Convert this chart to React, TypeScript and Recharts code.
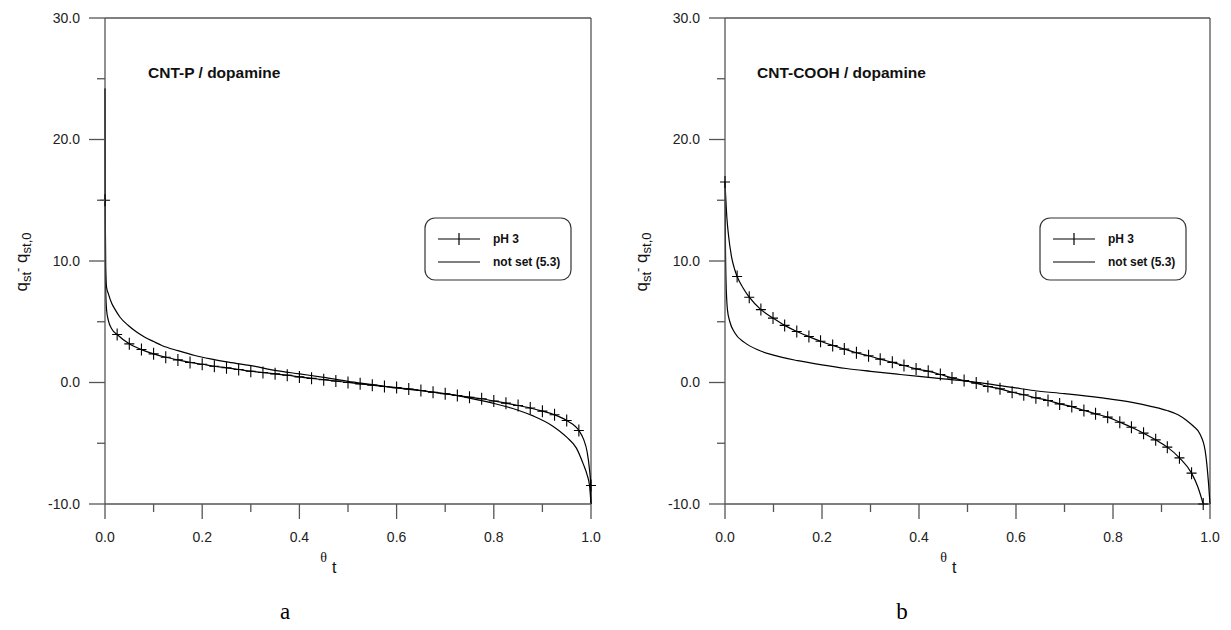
import React from "react";
import { ComposedChart, Line, Scatter, XAxis, YAxis, ReferenceLine } from "recharts";

const FONT = "'Liberation Sans', Arial, sans-serif";
const AXIS = "#555";

const xTicks = [0, 0.1, 0.2, 0.3, 0.4, 0.5, 0.6, 0.7, 0.8, 0.9, 1.0];
const yTicks = [-10, -5, 0, 5, 10, 15, 20, 25, 30];

// panel a: CNT-P / dopamine
const aMarkX = [0, 0.025, 0.05, 0.075, 0.1, 0.125, 0.15, 0.175, 0.2, 0.225, 0.25, 0.275, 0.3, 0.325, 0.35, 0.375, 0.4, 0.425, 0.45, 0.475, 0.5, 0.525, 0.55, 0.575, 0.6, 0.625, 0.65, 0.675, 0.7, 0.725, 0.75, 0.775, 0.8, 0.825, 0.85, 0.875, 0.9, 0.925, 0.95, 0.975, 1.0];
const aMarkY = [15.0, 3.95, 3.18, 2.71, 2.36, 2.08, 1.86, 1.65, 1.5, 1.34, 1.21, 1.07, 0.93, 0.82, 0.71, 0.6, 0.46, 0.34, 0.23, 0.12, 0.0, -0.11, -0.22, -0.33, -0.42, -0.53, -0.66, -0.8, -0.93, -1.07, -1.21, -1.34, -1.52, -1.7, -1.89, -2.1, -2.36, -2.66, -3.13, -3.95, -8.48];
const aPhX = [0, 0.0006, 0.0015, 0.0034, 0.007, 0.014, 0.025, 0.05, 0.075, 0.1, 0.125, 0.15, 0.175, 0.2, 0.225, 0.25, 0.275, 0.3, 0.325, 0.35, 0.375, 0.4, 0.425, 0.45, 0.475, 0.5, 0.525, 0.55, 0.575, 0.6, 0.625, 0.65, 0.675, 0.7, 0.725, 0.75, 0.775, 0.8, 0.825, 0.85, 0.875, 0.9, 0.925, 0.95, 0.975, 0.985, 0.992, 0.997, 0.9995, 1.0];
const aPhY = [24.2, 11.0, 7.5, 5.9, 5.1, 4.4, 3.95, 3.18, 2.71, 2.36, 2.08, 1.86, 1.65, 1.5, 1.34, 1.21, 1.07, 0.93, 0.82, 0.71, 0.6, 0.46, 0.34, 0.23, 0.12, 0.0, -0.11, -0.22, -0.33, -0.42, -0.53, -0.66, -0.8, -0.93, -1.07, -1.21, -1.34, -1.52, -1.7, -1.89, -2.1, -2.36, -2.66, -3.13, -3.95, -4.7, -5.7, -7.2, -8.48, -10.0];
const aNsX = [0, 0.0005, 0.0015, 0.003, 0.007, 0.014, 0.02, 0.031, 0.048, 0.065, 0.082, 0.1, 0.117, 0.15, 0.185, 0.22, 0.254, 0.309, 0.35, 0.4, 0.45, 0.5, 0.55, 0.6, 0.65, 0.7, 0.75, 0.8, 0.85, 0.881, 0.92, 0.95, 0.97, 0.984, 0.992, 0.997, 1.0];
const aNsY = [24.2, 14.0, 9.5, 7.9, 7.3, 6.5, 6.06, 5.37, 4.69, 4.15, 3.73, 3.37, 3.05, 2.62, 2.22, 1.92, 1.67, 1.32, 1.0, 0.71, 0.42, 0.1, -0.17, -0.45, -0.68, -0.92, -1.28, -1.72, -2.28, -2.75, -3.55, -4.5, -5.4, -6.7, -7.6, -8.5, -10.0];

// panel b: CNT-COOH / dopamine
const bMarkX = [0, 0.025, 0.05, 0.074, 0.099, 0.123, 0.148, 0.173, 0.197, 0.222, 0.246, 0.271, 0.296, 0.32, 0.345, 0.369, 0.394, 0.419, 0.444, 0.468, 0.493, 0.518, 0.542, 0.567, 0.592, 0.616, 0.641, 0.666, 0.69, 0.715, 0.74, 0.764, 0.789, 0.814, 0.838, 0.863, 0.888, 0.912, 0.937, 0.962, 0.986];
const bMarkY = [16.5, 8.72, 7.02, 6.0, 5.3, 4.7, 4.2, 3.78, 3.4, 3.05, 2.75, 2.45, 2.2, 1.92, 1.66, 1.4, 1.12, 0.93, 0.66, 0.38, 0.16, -0.05, -0.33, -0.52, -0.8, -1.01, -1.26, -1.48, -1.76, -1.98, -2.3, -2.58, -2.85, -3.27, -3.68, -4.17, -4.72, -5.32, -6.2, -7.46, -10.0];
const bPhX = [0, 0.004, 0.007, 0.0137, 0.02, 0.025, 0.037, 0.05, 0.074, 0.099, 0.123, 0.148, 0.173, 0.197, 0.222, 0.246, 0.271, 0.296, 0.32, 0.345, 0.369, 0.394, 0.419, 0.444, 0.468, 0.493, 0.518, 0.542, 0.567, 0.592, 0.616, 0.641, 0.666, 0.69, 0.715, 0.74, 0.764, 0.789, 0.814, 0.838, 0.863, 0.888, 0.912, 0.937, 0.962, 0.975, 0.986];
const bPhY = [16.5, 13.5, 12.2, 10.3, 9.3, 8.72, 7.8, 7.02, 6.0, 5.3, 4.7, 4.2, 3.78, 3.4, 3.05, 2.75, 2.45, 2.2, 1.92, 1.66, 1.4, 1.12, 0.93, 0.66, 0.38, 0.16, -0.05, -0.33, -0.52, -0.8, -1.01, -1.26, -1.48, -1.76, -1.98, -2.3, -2.58, -2.85, -3.27, -3.68, -4.17, -4.72, -5.32, -6.2, -7.46, -8.6, -10.0];
const bNsX = [0, 0.001, 0.002, 0.005, 0.01, 0.02, 0.04, 0.07, 0.1, 0.15, 0.2, 0.25, 0.3, 0.361, 0.4, 0.45, 0.498, 0.55, 0.6, 0.636, 0.7, 0.773, 0.842, 0.88, 0.911, 0.935, 0.952, 0.966, 0.979, 0.99, 0.997, 1.0];
const bNsY = [16.5, 11.0, 8.5, 6.0, 5.0, 4.1, 3.3, 2.65, 2.25, 1.8, 1.45, 1.15, 0.92, 0.66, 0.5, 0.3, 0.11, -0.15, -0.45, -0.66, -0.92, -1.25, -1.65, -1.98, -2.3, -2.68, -3.13, -3.6, -4.22, -5.6, -8.3, -10.0];

const seriesNames = ["pH 3", "not set (5.3)"];

const zip = (xs: number[], ys: number[]) => xs.map((x, i) => ({ x, y: ys[i] }));

const YTick = (props: any) => {
  const { x, y, payload } = props;
  const v = payload.value;
  const major = v % 10 === 0;
  return (
    <g>
      <line x1={x - (major ? 16 : 8)} x2={x} y1={y} y2={y} stroke={AXIS} strokeWidth={1.3} />
      {major && (
        <text x={x - 25} y={y} dy="0.35em" textAnchor="end" fontSize={14} fontFamily={FONT} fill="#222">
          {v.toFixed(1)}
        </text>
      )}
    </g>
  );
};

const XTick = (props: any) => {
  const { x, y, payload } = props;
  const v = payload.value;
  const major = Math.round(v * 10) % 2 === 0;
  return (
    <g>
      <line x1={x} x2={x} y1={y} y2={y + (major ? 15 : 8)} stroke={AXIS} strokeWidth={1.3} />
      {major && (
        <text x={x} y={y + 33} dy="0.35em" textAnchor="middle" fontSize={14} fontFamily={FONT} fill="#222">
          {v.toFixed(1)}
        </text>
      )}
    </g>
  );
};

const Plus = (p: any) => {
  const { cx, cy } = p;
  return <path d={`M${cx - 5},${cy}H${cx + 5}M${cx},${cy - 6}V${cy + 6}`} stroke="#000" strokeWidth={1.1} fill="none" />;
};

function Panel(props: any) {
  const { left, width, margin, title, titleDx, letter, letterDx, legendDx, phX, phY, markX, markY, nsX, nsY } = props;
  const PL = margin.left + 60;
  return (
    <div style={{ position: "absolute", left, top: 0, width, height: 630 }}>
      <ComposedChart width={width} height={630} margin={margin}>
        <XAxis
          type="number"
          dataKey="x"
          domain={[0, 1]}
          ticks={xTicks}
          interval={0}
          height={30}
          tickSize={0}
          tickMargin={0}
          tick={<XTick />}
          tickLine={false}
          axisLine={{ stroke: AXIS, strokeWidth: 1.3 }}
        />
        <YAxis
          type="number"
          domain={[-10, 30]}
          ticks={yTicks}
          interval={0}
          width={60}
          tickSize={0}
          tickMargin={0}
          tick={<YTick />}
          tickLine={false}
          axisLine={{ stroke: AXIS, strokeWidth: 1.3 }}
        />
        <ReferenceLine y={30} stroke={AXIS} strokeWidth={1.3} />
        <ReferenceLine x={1} stroke={AXIS} strokeWidth={1.3} />
        <Line data={zip(nsX, nsY)} dataKey="y" type="monotone" stroke="#000" strokeWidth={1.2} dot={false} isAnimationActive={false} />
        <Line data={zip(phX, phY)} dataKey="y" type="monotone" stroke="#000" strokeWidth={1.2} dot={false} isAnimationActive={false} />
        <Scatter data={zip(markX, markY)} dataKey="y" shape={<Plus />} isAnimationActive={false} />
      </ComposedChart>
      <svg width={width} height={630} style={{ position: "absolute", left: 0, top: 0, pointerEvents: "none" }}>
        <text x={PL + titleDx} y={77.5} fontSize={15.5} fontWeight="bold" fontFamily={FONT} fill="#111">
          {title}
        </text>
        <text transform={`translate(${PL - 78},262) rotate(-90)`} textAnchor="middle" fontSize={17} fontFamily={FONT} fill="#111">
          q<tspan dy={4} fontSize={13}>st</tspan>
          <tspan dy={-9} fontSize={13}>-</tspan>
          <tspan dy={5}> q</tspan>
          <tspan dy={4} fontSize={13}>st,0</tspan>
        </text>
        <text x={PL + 222} y={562} textAnchor="end" fontSize={14} fontFamily="'Liberation Serif', 'Times New Roman', serif" fill="#111">
          θ
        </text>
        <text x={PL + 227} y={573} fontSize={16} fontFamily={FONT} fill="#111">
          t
        </text>
        <text x={PL + letterDx} y={619} textAnchor="middle" fontSize={23} fontFamily="'Liberation Serif', 'Times New Roman', serif" fill="#000">
          {letter}
        </text>
        <g transform={`translate(${PL + legendDx},218)`}>
          <rect x={0} y={0} width={146} height={62} rx={10} ry={10} fill="#fff" stroke="#333" strokeWidth={1.2} />
          <line x1={13} x2={55} y1={21} y2={21} stroke="#000" strokeWidth={1.2} />
          <line x1={34} x2={34} y1={15} y2={27} stroke="#000" strokeWidth={1.2} />
          <text x={68} y={21} dy="0.35em" fontSize={12} fontWeight="bold" fontFamily={FONT} fill="#111">
            {seriesNames[0]}
          </text>
          <line x1={13} x2={55} y1={44} y2={44} stroke="#000" strokeWidth={1.2} />
          <text x={68} y={44} dy="0.35em" fontSize={12} fontWeight="bold" fontFamily={FONT} fill="#111">
            {seriesNames[1]}
          </text>
        </g>
      </svg>
    </div>
  );
}

export default function App() {
  return (
    <div style={{ position: "absolute", left: 0, top: 0, width: 1231, height: 630, background: "#fff" }}>
      <Panel
        left={0}
        width={615}
        margin={{ top: 18, right: 24, bottom: 96, left: 45 }}
        title="CNT-P / dopamine"
        titleDx={43}
        letter="a"
        letterDx={180}
        legendDx={320}
        phX={aPhX}
        phY={aPhY}
        markX={aMarkX}
        markY={aMarkY}
        nsX={aNsX}
        nsY={aNsY}
      />
      <Panel
        left={615}
        width={616}
        margin={{ top: 18, right: 21, bottom: 96, left: 50 }}
        title="CNT-COOH / dopamine"
        titleDx={32}
        letter="b"
        letterDx={177}
        legendDx={315}
        phX={bPhX}
        phY={bPhY}
        markX={bMarkX}
        markY={bMarkY}
        nsX={bNsX}
        nsY={bNsY}
      />
    </div>
  );
}
